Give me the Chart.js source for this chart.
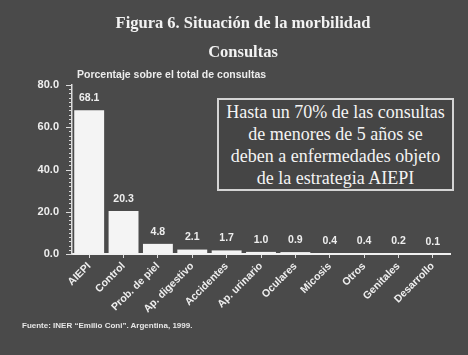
<!DOCTYPE html>
<html>
<head>
<meta charset="utf-8">
<script src="https://cdn.jsdelivr.net/npm/chart.js@4"></script>
<style>
  html, body { margin: 0; padding: 0; }
  body { width: 468px; height: 355px; background: #4a4a4a; position: relative; overflow: hidden; }
  #wrap { position: absolute; left: 0; top: 0; width: 468px; height: 355px; }
  .t { position: absolute; color: #f2f2f2; white-space: nowrap; }
  #title { left: 0; width: 486px; top: 13px; text-align: center; font: bold 16.5px "Liberation Serif", serif; }
  #title2 { left: 0; width: 486px; top: 42px; text-align: center; font: bold 16.5px "Liberation Serif", serif; }
  #sub { left: 77px; top: 68px; font: bold 10.5px "Liberation Sans", Arial, sans-serif; color: #ececec; }
  #box { position: absolute; left: 217px; top: 98px; width: 233px; height: 88px; border: 2px solid #d4d4d4; background: #454545;
         color: #f4f4f4; font: 18px "Liberation Serif", serif; line-height: 22px; text-align: center; padding-top: 1px; box-sizing: content-box; }
  #src { left: 22px; top: 321px; font: bold 8px "Liberation Sans", Arial, sans-serif; color: #e6e6e6; }
</style>
</head>
<body>
<div id="wrap"><canvas id="c" width="468" height="355"></canvas></div>
<div class="t" id="title">Figura 6. Situación de la morbilidad</div>
<div class="t" id="title2">Consultas</div>
<div class="t" id="sub">Porcentaje sobre el total de consultas</div>
<div id="box">Hasta un 70% de las consultas<br>de menores de 5 años se<br>deben a enfermedades objeto<br>de la estrategia AIEPI</div>
<div class="t" id="src">Fuente: INER “Emilio Coni”. Argentina, 1999.</div>
<script>
const categories = ["AIEPI", "Control", "Prob. de piel", "Ap. digestivo", "Accidentes", "Ap. urinario", "Oculares", "Micosis", "Otros", "Genitales", "Desarrollo"];
const consultas = [68.1, 20.3, 4.8, 2.1, 1.7, 1.0, 0.9, 0.4, 0.4, 0.2, 0.1];
const yTickLabels = [0, 20, 40, 60, 80];

const fg = "#eeeeee";

const valueLabels = {
  id: "valueLabels",
  afterDatasetsDraw(chart) {
    const ctx = chart.ctx;
    const meta = chart.getDatasetMeta(0);
    ctx.save();
    ctx.fillStyle = fg;
    ctx.font = 'bold 10.5px "Liberation Sans", Arial, sans-serif';
    ctx.textAlign = "center";
    ctx.textBaseline = "middle";
    meta.data.forEach((bar, i) => {
      ctx.fillText(consultas[i].toFixed(1), bar.x, bar.y - 12);
    });
    ctx.restore();
  }
};

const minorTicks = {
  id: "minorTicks",
  afterDraw(chart) {
    const y = chart.scales.y;
    const ctx = chart.ctx;
    ctx.save();
    ctx.strokeStyle = "#dcdcdc";
    ctx.lineWidth = 1;
    y.ticks.forEach(t => {
      const py = Math.round(y.getPixelForValue(t.value)) + 0.5;
      const len = (yTickLabels.includes(t.value)) ? 6 : 3;
      ctx.beginPath();
      ctx.moveTo(y.right - len, py);
      ctx.lineTo(y.right, py);
      ctx.stroke();
    });
    ctx.restore();
  }
};

new Chart(document.getElementById("c"), {
  type: "bar",
  data: {
    labels: categories,
    datasets: [{
      data: consultas,
      backgroundColor: "#f4f4f4",
      borderWidth: 0,
      categoryPercentage: 1.0,
      barPercentage: 0.87
    }]
  },
  options: {
    responsive: false,
    animation: false,
    devicePixelRatio: 1,
    layout: { padding: { left: 0, right: 18, top: 85, bottom: 0 } },
    plugins: { legend: { display: false }, tooltip: { enabled: false }, title: { display: false } },
    scales: {
      x: {
        afterFit(s) { s.height = 101; },
        border: { display: true, color: "#f0f0f0", width: 2 },
        grid: { display: true, drawOnChartArea: false, drawTicks: true, tickLength: 4, color: "#dcdcdc", offset: false },
        ticks: {
          color: fg,
          font: { family: '"Liberation Sans", Arial, sans-serif', size: 10.5, weight: "bold" },
          maxRotation: 45, minRotation: 45, autoSkip: false, padding: 2
        }
      },
      y: {
        min: 0, max: 80,
        afterFit(s) { s.width = 72; },
        border: { display: true, color: "#dcdcdc", width: 1.5 },
        grid: { display: true, drawOnChartArea: false, drawTicks: true, tickLength: 8, color: "rgba(0,0,0,0)" },
        ticks: {
          stepSize: 2,
          autoSkip: false,
          color: fg,
          padding: 5,
          font: { family: '"Liberation Sans", Arial, sans-serif', size: 11, weight: "bold" },
          callback: (v) => yTickLabels.includes(v) ? v.toFixed(1) : ""
        }
      }
    }
  },
  plugins: [valueLabels, minorTicks]
});
</script>
</body>
</html>
